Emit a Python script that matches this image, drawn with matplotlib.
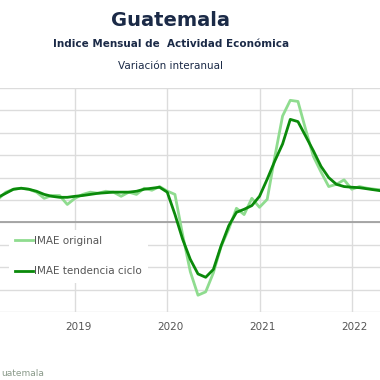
import matplotlib
matplotlib.use("Agg")
import matplotlib.pyplot as plt
import matplotlib.transforms as mtransforms

# months counted from Jan 2019 (0 = Jan 2019), Mar 2018 .. May 2022
months = list(range(-10, 41))

imae_original = [
    2.06, 2.7, 2.96, 3.05, 2.96, 2.7, 2.15, 2.4, 2.4, 1.6,          # Mar-Dec 2018
    2.15, 2.5, 2.7, 2.6, 2.78, 2.7, 2.33, 2.7, 2.5, 3.05, 2.87, 3.2,  # 2019
    2.8, 2.5, -1.1, -4.4, -6.5, -6.2, -4.5, -2.15, -0.6, 1.26, 0.7, 2.15,  # 2020
    1.35, 2.06, 5.9, 9.5, 10.9, 10.8, 8.3, 5.9, 4.5, 3.2, 3.4, 3.8,  # 2021
    2.96, 3.2, 3.05, 2.96, 2.9,                                      # 2022
]

imae_tendencia = [
    2.24, 2.6, 2.96, 3.05, 2.96, 2.78, 2.5, 2.33, 2.24, 2.24,
    2.33, 2.4, 2.5, 2.6, 2.65, 2.7, 2.7, 2.7, 2.78, 2.96, 3.05, 3.14,
    2.7, 0.72, -1.5, -3.3, -4.6, -4.9, -4.2, -2.1, -0.3, 0.9, 1.17, 1.5,
    2.33, 3.86, 5.5, 7.0, 9.2, 9.0, 7.7, 6.4, 5.0, 4.0, 3.4, 3.2,
    3.14, 3.1, 3.0, 2.9, 2.8,
]

year_ticks = [0, 12, 24, 36]
year_labels = ["2019", "2020", "2021", "2022"]

navy = "#1b2a47"
fig = plt.figure(figsize=(3.8, 3.8), dpi=100)
ax = fig.add_axes([0, 1 - 312 / 380, 1, 224 / 380])

ax.plot(months, imae_original, color="#8fdc8f", lw=2, label="IMAE original")
ax.plot(months, imae_tendencia, color="#0a8a0a", lw=2, label="IMAE tendencia ciclo")

ax.set_xlim(-9.75, 39.67)
ax.set_ylim(-8, 12)
ax.set_yticks(range(-8, 13, 2))
ax.set_yticklabels([])
ax.set_xticks(year_ticks)
ax.set_xticklabels(year_labels)
ax.tick_params(length=0, labelsize=7.5, labelcolor="#555555", pad=7)
offset = mtransforms.ScaledTranslation(3 / 100, 0, fig.dpi_scale_trans)
for lab in ax.get_xticklabels():
    lab.set_transform(lab.get_transform() + offset)

ax.grid(True, color="#dcdcdc", lw=1)
ax.set_axisbelow(True)
ax.axhline(0, color="#9a9a9a", lw=1.2, zorder=1)
for s in ax.spines.values():
    s.set_visible(False)

leg = ax.legend(loc="upper left", bbox_to_anchor=(0.01, 0.39), frameon=True,
                fontsize=7.5, handlelength=1.7, handletextpad=0.1, labelspacing=1.95,
                borderpad=0.6)
leg.get_frame().set_facecolor("white")
leg.get_frame().set_edgecolor("none")
leg.get_frame().set_alpha(1)
for t in leg.get_texts():
    t.set_color("#555555")

fig.text(0.45, 1 - 20 / 380, "Guatemala", ha="center", va="center",
         fontsize=14, fontweight="bold", color=navy)
fig.text(0.45, 1 - 44 / 380, "Indice Mensual de  Actividad Económica", ha="center",
         va="center", fontsize=7.5, fontweight="bold", color=navy)
fig.text(0.45, 1 - 66 / 380, "Variación interanual", ha="center", va="center",
         fontsize=7.5, color=navy)
fig.text(1 / 380, 1 - 374 / 380, "uatemala", ha="left", va="center",
         fontsize=6.5, color="#8a9a8a")

fig.savefig("out.png", dpi=100)
